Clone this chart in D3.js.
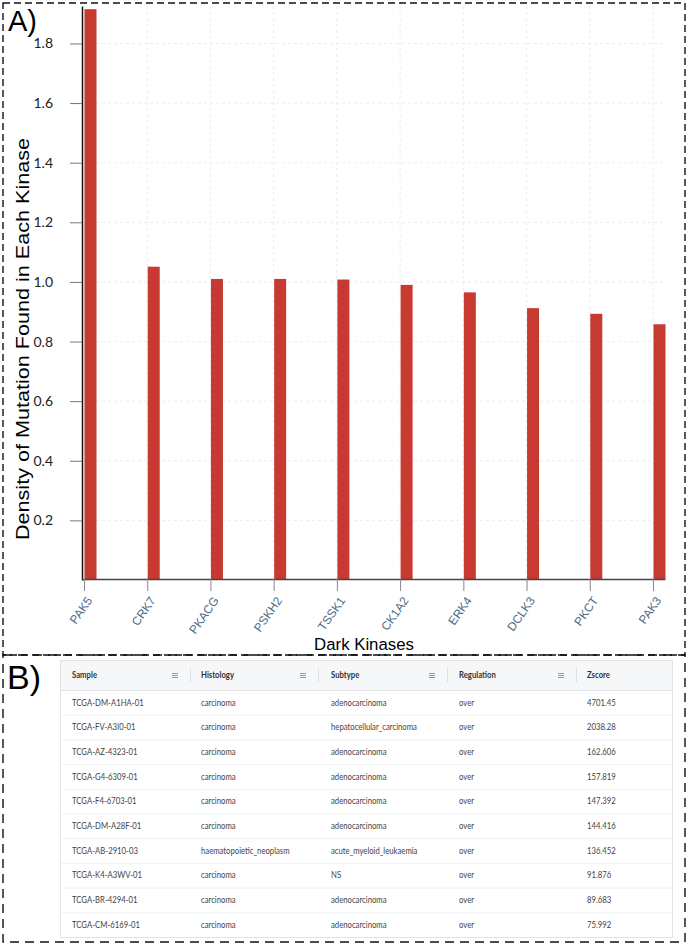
<!DOCTYPE html>
<html>
<head>
<meta charset="utf-8">
<script src="https://cdn.jsdelivr.net/npm/d3@7"></script>
<style>
  body { margin: 0; background: #fff; }
  .grid line { stroke: #e9eeee; stroke-dasharray: 3,3; }
  .cell { font-family: Lato, "Open Sans", sans-serif; font-size: 9px; fill: #444; }
  .head { font-family: Lato, "Open Sans", sans-serif; font-size: 9px; font-weight: bold; fill: #333; }
</style>
</head>
<body>
<svg id="fig"></svg>
<script>
// bar chart data
const kinases = ["PAK5", "CRK7", "PKACG", "PSKH2", "TSSK1", "CK1A2", "ERK4", "DCLK3", "PKCT", "PAK3"];
const density = [1.915, 1.051, 1.010, 1.010, 1.008, 0.990, 0.965, 0.912, 0.893, 0.858];
const yTicks = [0.2, 0.4, 0.6, 0.8, 1.0, 1.2, 1.4, 1.6, 1.8];

// table data
const columns = ["Sample", "Histology", "Subtype", "Regulation", "Zscore"];
const samples = ["TCGA-DM-A1HA-01", "TCGA-FV-A3I0-01", "TCGA-AZ-4323-01", "TCGA-G4-6309-01", "TCGA-F4-6703-01",
  "TCGA-DM-A28F-01", "TCGA-AB-2910-03", "TCGA-K4-A3WV-01", "TCGA-BR-4294-01", "TCGA-CM-6169-01"];
const histology = ["carcinoma", "carcinoma", "carcinoma", "carcinoma", "carcinoma",
  "carcinoma", "haematopoietic_neoplasm", "carcinoma", "carcinoma", "carcinoma"];
const subtype = ["adenocarcinoma", "hepatocellular_carcinoma", "adenocarcinoma", "adenocarcinoma", "adenocarcinoma",
  "adenocarcinoma", "acute_myeloid_leukaemia", "NS", "adenocarcinoma", "adenocarcinoma"];
const regulation = ["over", "over", "over", "over", "over", "over", "over", "over", "over", "over"];
const zscore = ["4701.45", "2038.28", "162.606", "157.819", "147.392", "144.416", "136.452", "91.876", "89.683", "75.992"];

const W = 688, H = 946;
const svg = d3.select("#fig").attr("width", W).attr("height", H);

// panel frames
svg.append("rect").attr("x", 3).attr("y", 3).attr("width", 682).attr("height", 652)
  .attr("fill", "none").attr("stroke", "#111").attr("stroke-width", 1.4).attr("stroke-dasharray", "7,4");
svg.append("rect").attr("x", 3).attr("y", 655).attr("width", 682).attr("height", 287)
  .attr("fill", "none").attr("stroke", "#111").attr("stroke-width", 1.4).attr("stroke-dasharray", "9,6");

svg.append("text").attr("x", 8).attr("y", 31).text("A)")
  .style("font-family", "Liberation Sans, Arial, sans-serif").style("font-size", "29px");
svg.append("text").attr("x", 7).attr("y", 689).text("B)")
  .style("font-family", "Liberation Sans, Arial, sans-serif").style("font-size", "34px");

// ---- A) bar chart ----
const x = d3.scalePoint().domain(kinases).range([84, 653]);
const y = d3.scaleLinear().domain([0, 1.924]).range([580, 6.5]);
const barW = 12;
const data = kinases.map((k, i) => ({ k: k, v: density[i] }));

// grid
const grid = svg.append("g").attr("class", "grid");
grid.selectAll(".gh").data(yTicks).join("line")
  .attr("x1", 84).attr("x2", 664).attr("y1", d => y(d)).attr("y2", d => y(d));
grid.selectAll(".gv").data(kinases.slice(1)).join("line")
  .attr("x1", d => x(d)).attr("x2", d => x(d)).attr("y1", 6).attr("y2", 578);

// bars
svg.append("g").selectAll("rect").data(data).join("rect")
  .attr("x", d => x(d.k) + 0.5)
  .attr("y", d => y(d.v))
  .attr("width", barW)
  .attr("height", d => y(0) - y(d.v))
  .attr("fill", "#c63a32");

// y axis
const yAxis = svg.append("g").attr("transform", "translate(82,0)")
  .call(d3.axisLeft(y).tickValues(yTicks).tickSize(12).tickPadding(17).tickFormat(d3.format(".1f")));
yAxis.select(".domain").attr("stroke", "#111").attr("stroke-width", 1.5).attr("d", "M0.5," + y.range()[1] + "V" + (y(0) + 0.5));
yAxis.selectAll(".tick line").attr("stroke", "#777");
yAxis.selectAll(".tick text").attr("fill", "#222")
  .style("font-family", "Lato, sans-serif").style("font-size", "14px");

// x axis
const xAxis = svg.append("g").attr("transform", "translate(0,579)")
  .call(d3.axisBottom(x).tickSize(12).tickSizeOuter(0));
xAxis.select(".domain").attr("stroke", "#444").attr("stroke-width", 1.3).attr("d", "M82,0.5H665");
xAxis.selectAll(".tick line").attr("stroke", "#888");
xAxis.selectAll(".tick text")
  .attr("fill", "#4b6b88")
  .style("font-family", "Liberation Sans, Arial, sans-serif").style("font-size", "12px")
  .attr("text-anchor", "end")
  .attr("x", 0).attr("y", 0)
  .attr("dy", "0.35em")
  .attr("transform", "translate(5,19) rotate(-55)");

// axis titles
svg.append("text").attr("transform", "translate(29,339) rotate(-90) scale(1.2,1)")
  .attr("text-anchor", "middle").text("Density of Mutation Found in Each Kinase")
  .style("font-family", "Liberation Sans, Arial, sans-serif").style("font-size", "18px");
svg.append("text").attr("x", 364).attr("y", 650).attr("text-anchor", "middle").text("Dark Kinases")
  .style("font-family", "Liberation Sans, Arial, sans-serif").style("font-size", "16.8px");

// ---- B) table ----
const tLeft = 60, tRight = 672, tTop = 660, headH = 30, rowH = 24.7;
const colX = [72, 201, 331, 459, 587];
const sepX = [190, 318, 447, 576];
const iconX = [175, 303, 432, 561];
const sx = 0.86;
const rows = samples.map((s, i) => [s, histology[i], subtype[i], regulation[i], zscore[i]]);
const tb = svg.append("g");

tb.append("rect").attr("x", tLeft + 0.5).attr("y", tTop + 0.5)
  .attr("width", tRight - tLeft).attr("height", headH + rowH * rows.length)
  .attr("fill", "#fff").attr("stroke", "#e1e3e6");
tb.append("rect").attr("x", tLeft + 1).attr("y", tTop + 1)
  .attr("width", tRight - tLeft - 1).attr("height", headH - 1).attr("fill", "#f6f7f8");
tb.append("line").attr("x1", tLeft).attr("x2", tRight).attr("y1", tTop + headH + 0.5).attr("y2", tTop + headH + 0.5)
  .attr("stroke", "#e1e3e6");

tb.selectAll(".head").data(columns).join("text").attr("class", "head")
  .attr("transform", (d, i) => "translate(" + colX[i] + "," + (tTop + headH / 2) + ") scale(" + sx + ",1)")
  .attr("dy", "0.35em").text(d => d);
tb.selectAll(".icon").data(iconX).join("g").attr("class", "icon")
  .each(function (ix) {
    const g = d3.select(this);
    [-2, 0, 2].forEach(o => g.append("line").attr("x1", ix - 3).attr("x2", ix + 3)
      .attr("y1", tTop + headH / 2 + o + 0.5).attr("y2", tTop + headH / 2 + o + 0.5)
      .attr("stroke", "#999").attr("stroke-width", 1));
  });
tb.selectAll(".sep").data(sepX).join("line").attr("class", "sep")
  .attr("x1", d => d + 0.5).attr("x2", d => d + 0.5)
  .attr("y1", tTop + headH / 2 - 7).attr("y2", tTop + headH / 2 + 7).attr("stroke", "#dde0e3");

const rowG = tb.selectAll(".row").data(rows).join("g").attr("class", "row")
  .attr("transform", (d, i) => "translate(0," + (tTop + headH + i * rowH) + ")");
rowG.filter((d, i) => i < rows.length - 1).append("line")
  .attr("x1", tLeft).attr("x2", tRight).attr("y1", rowH + 0.5).attr("y2", rowH + 0.5).attr("stroke", "#eef0f2");
rowG.selectAll("text").data(d => d).join("text").attr("class", "cell")
  .attr("transform", (d, i) => "translate(" + colX[i] + "," + (rowH / 2) + ") scale(" + sx + ",1)")
  .attr("dy", "0.35em").text(d => d);
</script>
</body>
</html>
